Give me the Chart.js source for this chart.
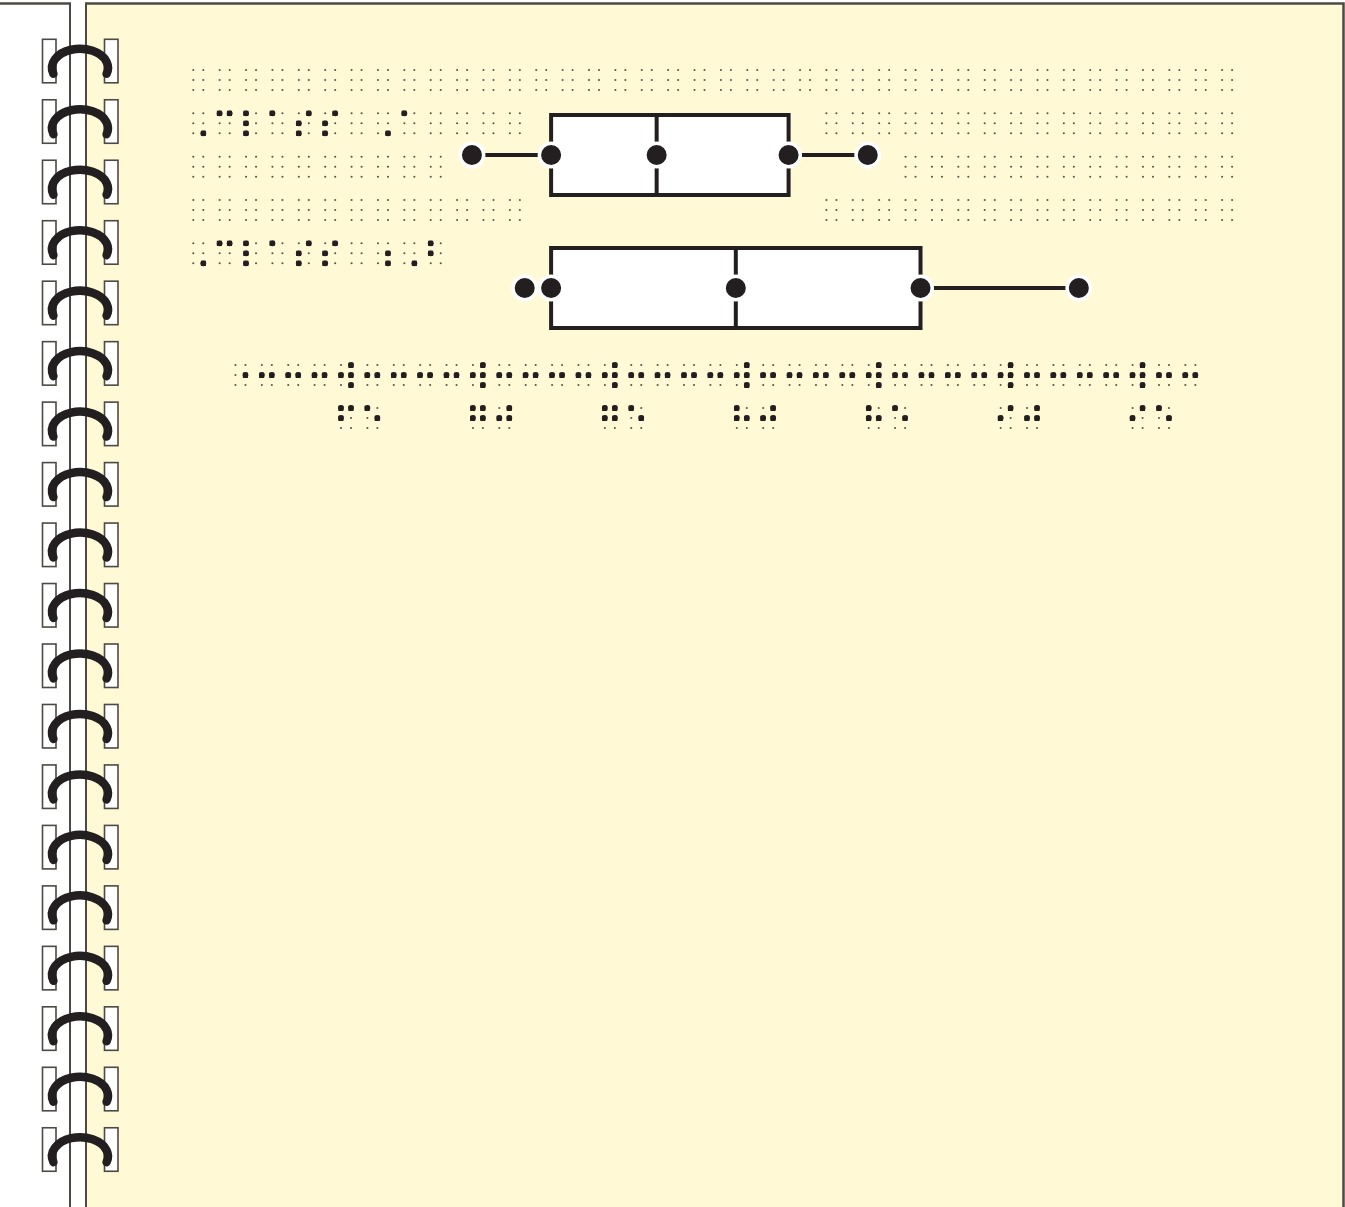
<!DOCTYPE html>
<html>
<head>
<meta charset="utf-8">
<title>Class A / Class B box plots (braille)</title>
<script src="https://cdn.jsdelivr.net/npm/chart.js@4.4.1/dist/chart.umd.min.js"></script>
<style>
  html, body { margin: 0; padding: 0; background: #fff; }
  canvas { display: block; }
</style>
</head>
<body>
<canvas id="boxChart" width="1345" height="1207"></canvas>
<script>
const classLabels = ['⠠⠉⠇⠁⠎⠎⠀⠠⠁', '⠠⠉⠇⠁⠎⠎⠀⠰⠠⠃'];
const minValues = [69, 71];
const q1Values = [72, 72];
const medianValues = [76, 79];
const q3Values = [81, 86];
const maxValues = [84, 92];
const tickValues = [65, 70, 75, 80, 85, 90, 95];
const tickLabels = ['⠋⠑', '⠛⠚', '⠛⠑', '⠓⠚', '⠓⠑', '⠊⠚', '⠊⠑'];

// braille axis pieces
const AXIS_START = '⠐';
const AXIS_LINE = '⠒';
const AXIS_TICK = '⠺';
const CELLS_PER_TICK = 5;

// --- Look ---
const INK = '#231f20';
const PAGE = '#fff9d6';
const EDGE = '#4d4944';
const GUIDE_DOT = '#5a564c';
const DOT_GAP = 10;          // distance between dots inside a cell
const RAISED_DOT = 5.8;      // diameter of a raised dot
const CELL = 26.38;          // braille cell pitch on the text grid
const GRID_X = 193.3;        // left dot column of the first cell
const ROW_Y = [70, 113.3, 156.7, 200, 243.3];
const AXIS_Y = 365;
const AXIS_LABEL_Y = 408;
const TICK_SHIFT = 25.4;     // tick cell sits left of its value
const BOX_LINE = 4;
const DOT_POS = [[0, 0], [0, 1], [0, 2], [1, 0], [1, 1], [1, 2]];

const blank = n => '⠀'.repeat(n);
const pad = (s, n) => s + blank(Math.max(0, n - [...s].length));

// text grid: row, first cell, content (blank cells keep the guide dots)
const brailleRows = [
    { row: 0, start: 0, text: blank(40) },
    { row: 1, start: 0, text: pad(classLabels[0], 13) },
    { row: 1, start: 24, text: blank(16) },
    { row: 2, start: 0, text: blank(10) },
    { row: 2, start: 27, text: blank(13) },
    { row: 3, start: 0, text: blank(13) },
    { row: 3, start: 24, text: blank(16) },
    { row: 4, start: 0, text: pad(classLabels[1], 10) }
];

// --- Braille helpers ---
let glyph;

function measureBraille(ctx) {
    ctx.save();
    ctx.font = '100px "DejaVu Sans"';
    ctx.textAlign = 'left';
    ctx.textBaseline = 'alphabetic';
    const one = ctx.measureText('⠁');
    const full = ctx.measureText('⠿');
    ctx.restore();
    const d = one.actualBoundingBoxRight + one.actualBoundingBoxLeft;
    const w = full.actualBoundingBoxRight + full.actualBoundingBoxLeft;
    const h = full.actualBoundingBoxAscent + full.actualBoundingBoxDescent;
    const colGap = w - d;
    const rowGap = (h - d) / 2;
    if (!(d > 0 && colGap > 0 && rowGap > 0)) return null;
    const k = DOT_GAP / rowGap;
    return {
        size: 100 * k,
        sx: DOT_GAP / (colGap * k),
        dx: (-one.actualBoundingBoxLeft + d / 2) * k,
        dy: (-one.actualBoundingBoxAscent + d / 2) * k
    };
}

// x, y = centre of dot 1
function drawCell(ctx, ch, x, y) {
    ctx.fillStyle = GUIDE_DOT;
    DOT_POS.forEach(([c, r]) => {
        ctx.beginPath();
        ctx.arc(x + c * DOT_GAP, y + r * DOT_GAP, 1.05, 0, Math.PI * 2);
        ctx.fill();
    });
    if (ch === '⠀') return;
    ctx.fillStyle = INK;
    if (glyph) {
        ctx.save();
        ctx.translate(x, y);
        ctx.scale(glyph.sx, 1);
        ctx.font = `${glyph.size}px "DejaVu Sans"`;
        ctx.textAlign = 'left';
        ctx.textBaseline = 'alphabetic';
        ctx.fillText(ch, -glyph.dx, -glyph.dy);
        ctx.restore();
    }
    // round embossed dots over the glyph's square ones
    const bits = ch.codePointAt(0) - 0x2800;
    DOT_POS.forEach(([c, r], i) => {
        if (bits & (1 << i)) {
            ctx.beginPath();
            ctx.arc(x + c * DOT_GAP, y + r * DOT_GAP, RAISED_DOT / 2, 0, Math.PI * 2);
            ctx.fill();
        }
    });
}

function drawBrailleString(ctx, text, x, y, pitch) {
    [...text].forEach((ch, i) => drawCell(ctx, ch, x + i * pitch, y));
}

// --- Plugins ---
const notebookPage = {
    id: 'notebookPage',
    beforeDraw(chart) {
        const ctx = chart.ctx;
        const W = chart.width, H = chart.height;
        ctx.save();
        ctx.fillStyle = '#fff';
        ctx.fillRect(0, 0, W, H);
        ctx.fillStyle = PAGE;
        ctx.fillRect(86, 3, W - 88, H - 3);

        ctx.strokeStyle = EDGE;
        ctx.lineWidth = 2.5;
        ctx.beginPath();
        ctx.moveTo(0, 3.5); ctx.lineTo(71, 3.5);
        ctx.moveTo(85, 3.5); ctx.lineTo(W - 1.5, 3.5); ctx.lineTo(W - 1.5, H);
        ctx.stroke();
        ctx.lineWidth = 2;
        ctx.beginPath();
        ctx.moveTo(70, 3); ctx.lineTo(70, H);
        ctx.moveTo(86, 3); ctx.lineTo(86, H);
        ctx.stroke();

        // spiral binding
        for (let i = 0; i < 19; i++) {
            const top = 39.3 + i * 60.47;
            ctx.fillStyle = '#fff';
            ctx.strokeStyle = EDGE;
            ctx.lineWidth = 1.6;
            [42.5, 104.5].forEach(x => {
                ctx.fillRect(x, top, 13.5, 43.5);
                ctx.strokeRect(x, top, 13.5, 43.5);
            });
            ctx.strokeStyle = INK;
            ctx.lineWidth = 8.5;
            ctx.lineCap = 'round';
            ctx.beginPath();
            ctx.ellipse(80, top + 28.5, 28, 19, 0, Math.PI - 0.32, Math.PI * 2 + 0.32);
            ctx.stroke();
        }
        ctx.restore();
    }
};

// box outline (centred on the quartile values) and median line
const boxOutline = {
    id: 'boxOutline',
    afterDatasetDraw(chart, args) {
        if (args.meta.type !== 'bar') return;
        const ctx = chart.ctx;
        const xs = chart.scales.x;
        ctx.save();
        ctx.strokeStyle = INK;
        ctx.lineWidth = BOX_LINE;
        args.meta.data.forEach((bar, i) => {
            const top = bar.y - bar.height / 2;
            const left = Math.min(bar.base, bar.x);
            ctx.strokeRect(left, top, Math.abs(bar.x - bar.base), bar.height);
            const x = xs.getPixelForValue(medianValues[i]);
            ctx.beginPath();
            ctx.moveTo(x, top);
            ctx.lineTo(x, top + bar.height);
            ctx.stroke();
        });
        ctx.restore();
    }
};

const brailleText = {
    id: 'brailleText',
    afterDraw(chart) {
        const ctx = chart.ctx;
        if (glyph === undefined) glyph = measureBraille(ctx);
        ctx.save();

        brailleRows.forEach(r => {
            drawBrailleString(ctx, r.text, GRID_X + r.start * CELL, ROW_Y[r.row], CELL);
        });

        // braille x axis, placed from the x scale
        const xs = chart.scales.x;
        const pitch = (xs.getPixelForValue(tickValues[1]) - xs.getPixelForValue(tickValues[0])) / CELLS_PER_TICK;
        const firstTick = xs.getPixelForValue(tickValues[0]) - TICK_SHIFT;
        let axis = AXIS_START + AXIS_LINE.repeat(CELLS_PER_TICK - 2);
        tickValues.forEach((v, i) => {
            axis += AXIS_TICK + AXIS_LINE.repeat(i < tickValues.length - 1 ? CELLS_PER_TICK - 1 : 2);
        });
        drawBrailleString(ctx, axis, firstTick - (CELLS_PER_TICK - 1) * pitch, AXIS_Y, pitch);

        tickValues.forEach((v, i) => {
            drawBrailleString(ctx, tickLabels[i], xs.getPixelForValue(v) - TICK_SHIFT, AXIS_LABEL_Y, pitch);
        });
        ctx.restore();
    }
};

// --- Datasets ---
const datasets = [{
    type: 'bar',
    label: 'box',
    data: q1Values.map((q1, i) => [q1, q3Values[i]]),
    backgroundColor: '#ffffff',
    borderWidth: 0,
    barThickness: 80,
    order: 3
}];

classLabels.forEach((label, i) => {
    [[minValues[i], q1Values[i]], [q3Values[i], maxValues[i]]].forEach(([a, b]) => {
        datasets.push({
            type: 'line',
            indexAxis: 'y',
            data: [{ x: a, y: label }, { x: b, y: label }],
            borderColor: INK,
            borderWidth: 4,
            pointRadius: 0,
            fill: false,
            order: 2
        });
    });
});

const dotPoints = [];
classLabels.forEach((label, i) => {
    [minValues[i], q1Values[i], medianValues[i], q3Values[i], maxValues[i]].forEach(v => {
        dotPoints.push({ x: v, y: label });
    });
});

datasets.push({
    type: 'line',
    indexAxis: 'y',
    data: dotPoints,
    showLine: false,
    pointRadius: 11.75,
    pointBackgroundColor: INK,
    pointBorderColor: '#ffffff',
    pointBorderWidth: 3.5,
    order: 1
});

// --- Chart ---
const canvas = document.getElementById('boxChart');
new Chart(canvas.getContext('2d'), {
    type: 'bar',
    data: { labels: classLabels, datasets },
    options: {
        indexAxis: 'y',
        responsive: false,
        animation: false,
        events: [],
        layout: { padding: { left: 366.4, right: 1345 - 1158, top: 88.5, bottom: 1207 - 354.5 } },
        scales: {
            x: { type: 'linear', min: 65, max: 95, display: false },
            y: { type: 'category', offset: true, display: false }
        },
        plugins: {
            legend: { display: false },
            tooltip: { enabled: false }
        }
    },
    plugins: [notebookPage, boxOutline, brailleText]
});
</script>
</body>
</html>
